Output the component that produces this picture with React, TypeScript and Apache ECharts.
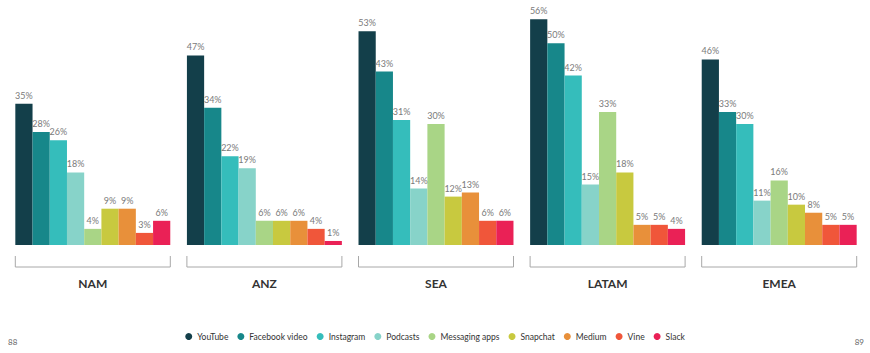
import React, { useEffect, useRef } from "react";
import * as echarts from "echarts";

const regions = ["NAM", "ANZ", "SEA", "LATAM", "EMEA"];
const seriesNames = ["YouTube", "Facebook video", "Instagram", "Podcasts", "Messaging apps", "Snapchat", "Medium", "Vine", "Slack"];
const youtube = [35, 47, 53, 56, 46];
const facebookVideo = [28, 34, 43, 50, 33];
const instagram = [26, 22, 31, 42, 30];
const podcasts = [18, 19, 14, 15, 11];
const messagingApps = [4, 6, 30, 33, 16];
const snapchat = [9, 6, 12, 18, 10];
const medium = [9, 6, 13, 5, 8];
const vine = [3, 4, 6, 5, 5];
const slack = [6, 1, 6, 4, 5];
const colors = ["#133f4a", "#17878a", "#35bdbb", "#87d3c9", "#a9d586", "#c8c93f", "#e8903a", "#f0563a", "#ea2156"];
const pageNumbers = ["88", "89"];

const allData = [youtube, facebookVideo, instagram, podcasts, messagingApps, snapchat, medium, vine, slack];

export default function App() {
  const ref = useRef<HTMLDivElement>(null);
  useEffect(() => {
    if (!ref.current) return;
    const chart = echarts.init(ref.current, undefined, { renderer: "svg" });
    const font = "Lato, 'Noto Sans', sans-serif";
    chart.setOption({
      animation: false,
      backgroundColor: "#ffffff",
      grid: { left: 7, right: 5, top: 3, bottom: 108, containLabel: false },
      legend: {
        bottom: 7,
        left: "center",
        icon: "circle",
        itemWidth: 7,
        itemHeight: 7,
        itemGap: 9,
        textStyle: { fontFamily: font, fontSize: 8.5, color: "#333" },
        data: seriesNames,
      },
      xAxis: {
        type: "category",
        data: regions,
        axisLine: { show: false },
        axisTick: { show: false },
        axisLabel: { margin: 32, fontFamily: font, fontSize: 12, fontWeight: "bold", color: "#333" },
      },
      yAxis: { type: "value", min: 0, max: 60, show: false, splitLine: { show: false } },
      series: seriesNames.map((name, i) => ({
        name,
        type: "bar",
        data: allData[i],
        barGap: "0%",
        barCategoryGap: "9.7%",
        itemStyle: { color: colors[i] },
        label: {
          show: true,
          position: "top",
          distance: 4,
          formatter: "{c}%",
          fontFamily: font,
          fontSize: 9,
          color: "#7a7a7a",
        },
      })),
    });
    const half = 77.5;
    const baseY = chart.convertToPixel({ yAxisIndex: 0 }, 0) as number;
    const graphics: any[] = [];
    regions.forEach((r) => {
      const cx = chart.convertToPixel({ xAxisIndex: 0 }, r) as number;
      graphics.push({
        type: "polyline",
        shape: {
          points: [
            [cx - half, baseY + 11],
            [cx - half, baseY + 22],
            [cx + half, baseY + 22],
            [cx + half, baseY + 11],
          ],
        },
        style: { stroke: "#a8a8a8", lineWidth: 1, fill: null },
      });
    });
    graphics.push({
      type: "text",
      left: 8,
      top: 338,
      style: { text: pageNumbers[0], fontFamily: font, fontSize: 8, fill: "#666" },
    });
    graphics.push({
      type: "text",
      right: 6,
      top: 338,
      style: { text: pageNumbers[1], fontFamily: font, fontSize: 8, fill: "#666" },
    });
    chart.setOption({ graphic: graphics });
    return () => chart.dispose();
  }, []);
  return <div ref={ref} style={{ position: "fixed", left: 0, top: 0, width: 870, height: 353 }} />;
}
